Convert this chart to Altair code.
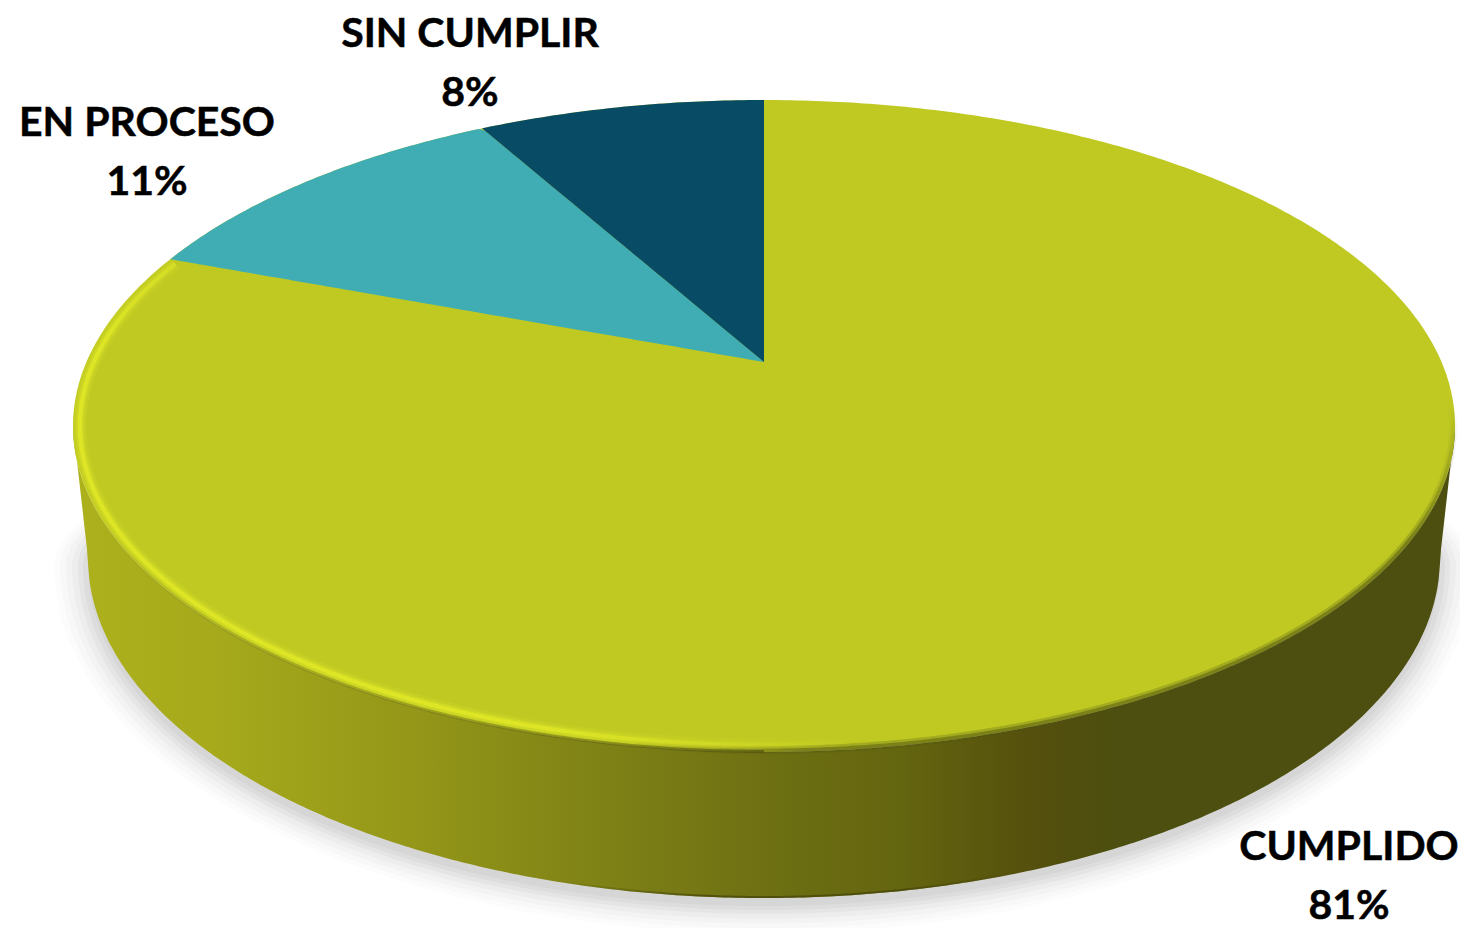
import numpy as np
import pandas as pd
import altair as alt

categories = ["CUMPLIDO", "EN PROCESO", "SIN CUMPLIR"]
shares = [80.7, 11.2, 8.1]
slice_colors = ["#BFC922", "#3FADB3", "#074B65"]

# Geometry of the tilted disc, in picture units
CX, CY, A, B = 764.0, 426.0, 691.0, 326.0
APEX_Y = 362.0
DEPTH_CY, DEPTH_A, DEPTH_B = 558.0, 676.0, 340.0
K = 0.196
H_A = A * np.sqrt(1 - K ** 2)
H_B = 100 * (1 + K) - APEX_Y


def rim_point(share_before):
    """Where a cumulative share, measured counter-clockwise from the top, meets the rim."""
    th = -2 * np.pi * share_before / 100
    u, v = np.sin(th), np.cos(th)
    d = 1 + K * v
    return CX + H_A * u / d, (H_B * v + APEX_Y) / d


def arc_x(x0=None, x1=None, n=360):
    t = np.linspace(0, np.pi, n)
    x = CX - A * np.cos(t)
    lo = x.min() if x0 is None else x0
    hi = x.max() if x1 is None else x1
    return np.unique(np.concatenate([[lo, hi], x[(x > lo) & (x < hi)]]))


def half(x, a=A, b=B, cy=CY, sign=1):
    return cy + sign * b * np.sqrt(np.clip(1 - ((x - CX) / a) ** 2, 0, 1))


x_scale = alt.Scale(domain=[8, 1460], range=[0, 1452], nice=False, zero=False)
y_scale = alt.Scale(domain=[928, 8], nice=False, zero=False)
X = alt.X("x:Q", scale=x_scale, axis=None)
Y = alt.Y("y:Q", scale=y_scale, axis=None)
Y2 = alt.Y2("y2:Q")


def area(df, fill, opacity=1.0):
    return alt.Chart(df).mark_area(color=fill, opacity=opacity, interpolate="linear", line=False).encode(x=X, y=Y, y2=Y2)


def grad(stops, x1=0, y1=0, x2=1, y2=0):
    return alt.LinearGradient(
        gradient="linear", x1=x1, y1=y1, x2=x2, y2=y2,
        stops=[alt.GradientStop(color=c, offset=o) for o, c in stops],
    )


def rim_line(t0, t1, inset, stroke, width, opacity=1.0):
    t = np.linspace(t0, t1, 260)
    df = pd.DataFrame({
        "x": CX - (A - inset) * np.cos(t),
        "y": CY + (B - inset) * np.sin(t),
        "i": np.arange(len(t)),
    })
    return alt.Chart(df).mark_line(stroke=stroke, strokeWidth=width, opacity=opacity, strokeCap="butt").encode(
        x=X, y=Y, order=alt.Order("i:Q")
    )


layers = []

# Soft shadow under the disc
for grow, alpha in [(34, 0.012), (28, 0.016), (22, 0.02), (16, 0.025), (10, 0.03), (5, 0.03), (0, 0.03)]:
    a, b = DEPTH_A + grow, DEPTH_B + grow * 0.8
    t = np.linspace(0, np.pi, 300)
    xs = CX - a * np.cos(t)
    s = pd.DataFrame({"x": xs, "y": 566 + b * np.sin(t), "y2": 566 - 0.45 * b * np.sin(t)})
    layers.append(area(s, "#000000", alpha))

# Side wall
xw = arc_x()
y_bottom = np.where(
    np.abs(xw - CX) < DEPTH_A,
    half(xw, DEPTH_A, DEPTH_B, DEPTH_CY),
    DEPTH_CY - (DEPTH_CY - CY) * (np.abs(xw - CX) - DEPTH_A) / (A - DEPTH_A),
)
wall = pd.DataFrame({"x": xw, "y": half(xw), "y2": y_bottom})
layers.append(area(wall, grad([
    (0.00, "#ADB11C"), (0.10, "#A6AA1B"), (0.25, "#939618"), (0.40, "#7C7F15"),
    (0.50, "#6E7013"), (0.60, "#64650F"), (0.66, "#5A570E"), (0.70, "#544F0D"),
    (0.76, "#4C4F10"), (1.00, "#4C4F10"),
])))

# Dark lip along the bottom of the wall
xb = arc_x(560, 1050)
lip = pd.DataFrame({"x": xb, "y": half(xb, DEPTH_A, DEPTH_B, DEPTH_CY) - 1, "i": np.arange(len(xb))})
layers.append(alt.Chart(lip).mark_line(
    stroke=grad([(0, "rgba(72,72,10,0)"), (0.3, "rgba(72,72,10,0.8)"), (0.7, "rgba(72,72,10,0.8)"), (1, "rgba(72,72,10,0)")]),
    strokeWidth=2,
).encode(x=X, y=Y, order=alt.Order("i:Q")))

# Top face: whole ellipse in the first slice's colour
xt = arc_x()
face = pd.DataFrame({"x": xt, "y": half(xt, sign=-1), "y2": half(xt)})
layers.append(area(face, slice_colors[0]))

# Rim shading
dark = grad(
    [(0, "rgba(76,79,16,0)"), (0.22, "rgba(76,79,16,1)"), (0.9, "rgba(76,79,16,1)"), (1, "rgba(76,79,16,0)")],
    x1=1, y1=0, x2=0, y2=1,
)
olive = grad(
    [(0, "rgba(110,112,20,0)"), (0.25, "rgba(130,134,22,0.6)"), (1, "rgba(90,92,14,0.8)")],
)
layers.append(rim_line(np.pi * 0.10, np.pi * 0.50, 0.5, olive, 3))
layers.append(rim_line(np.pi * 0.44, np.pi * 1.02, 2, dark, 8, 0.25))
layers.append(rim_line(np.pi * 0.44, np.pi * 1.02, 1.5, dark, 4, 0.45))
hl = grad([(0, "rgba(224,232,38,0)"), (0.1, "rgba(224,232,38,1)"), (0.78, "rgba(224,232,38,1)"), (1, "rgba(224,232,38,0)")],
          x1=0, y1=0, x2=1, y2=1)
layers.append(rim_line(np.pi * -0.17, np.pi * 0.54, 7, hl, 13, 0.18))
layers.append(rim_line(np.pi * -0.17, np.pi * 0.54, 7, hl, 8, 0.35))
layers.append(rim_line(np.pi * -0.17, np.pi * 0.54, 7, hl, 4, 0.85))

# Teal and navy slices, built from the shares
navy_end = rim_point(shares[2])
teal_end = rim_point(shares[2] + shares[1])

xn = arc_x(navy_end[0], CX)
navy = pd.DataFrame({
    "x": xn,
    "y": half(xn, sign=-1),
    "y2": APEX_Y + (navy_end[1] - APEX_Y) * (CX - xn) / (CX - navy_end[0]),
})
xs = arc_x(teal_end[0], CX)
upper = np.where(
    xs < navy_end[0],
    half(xs, sign=-1),
    APEX_Y + (navy_end[1] - APEX_Y) * (CX - xs) / (CX - navy_end[0]),
)
teal = pd.DataFrame({
    "x": xs,
    "y": upper,
    "y2": APEX_Y + (teal_end[1] - APEX_Y) * (CX - xs) / (CX - teal_end[0]),
})
layers.append(area(teal, slice_colors[1]))
layers.append(area(navy, slice_colors[2]))

# Labels
label_anchor = {"CUMPLIDO": (1349, 860), "EN PROCESO": (147, 136), "SIN CUMPLIR": (470, 47)}
rows = []
for c, s in zip(categories, shares):
    ax, ay = label_anchor[c]
    rows.append({"label": c, "x": ax, "y": ay})
    rows.append({"label": f"{round(s)}%", "x": ax, "y": ay + 59})
labels = pd.DataFrame(rows)
layers.append(alt.Chart(labels).mark_text(
    font="Lato", fontWeight="bold", fontSize=41, color="#000000",
    stroke="#000000", strokeWidth=0.5,
    align="center", baseline="alphabetic",
).encode(x=X, y=Y, text="label:N"))

chart = alt.layer(*layers).properties(
    width=1452, height=920, padding=0, background="#FFFFFF",
    autosize=alt.AutoSizeParams(type="none"),
).configure_view(stroke=None)

chart.save("out.html", embed_options={"renderer": "svg", "actions": False})
